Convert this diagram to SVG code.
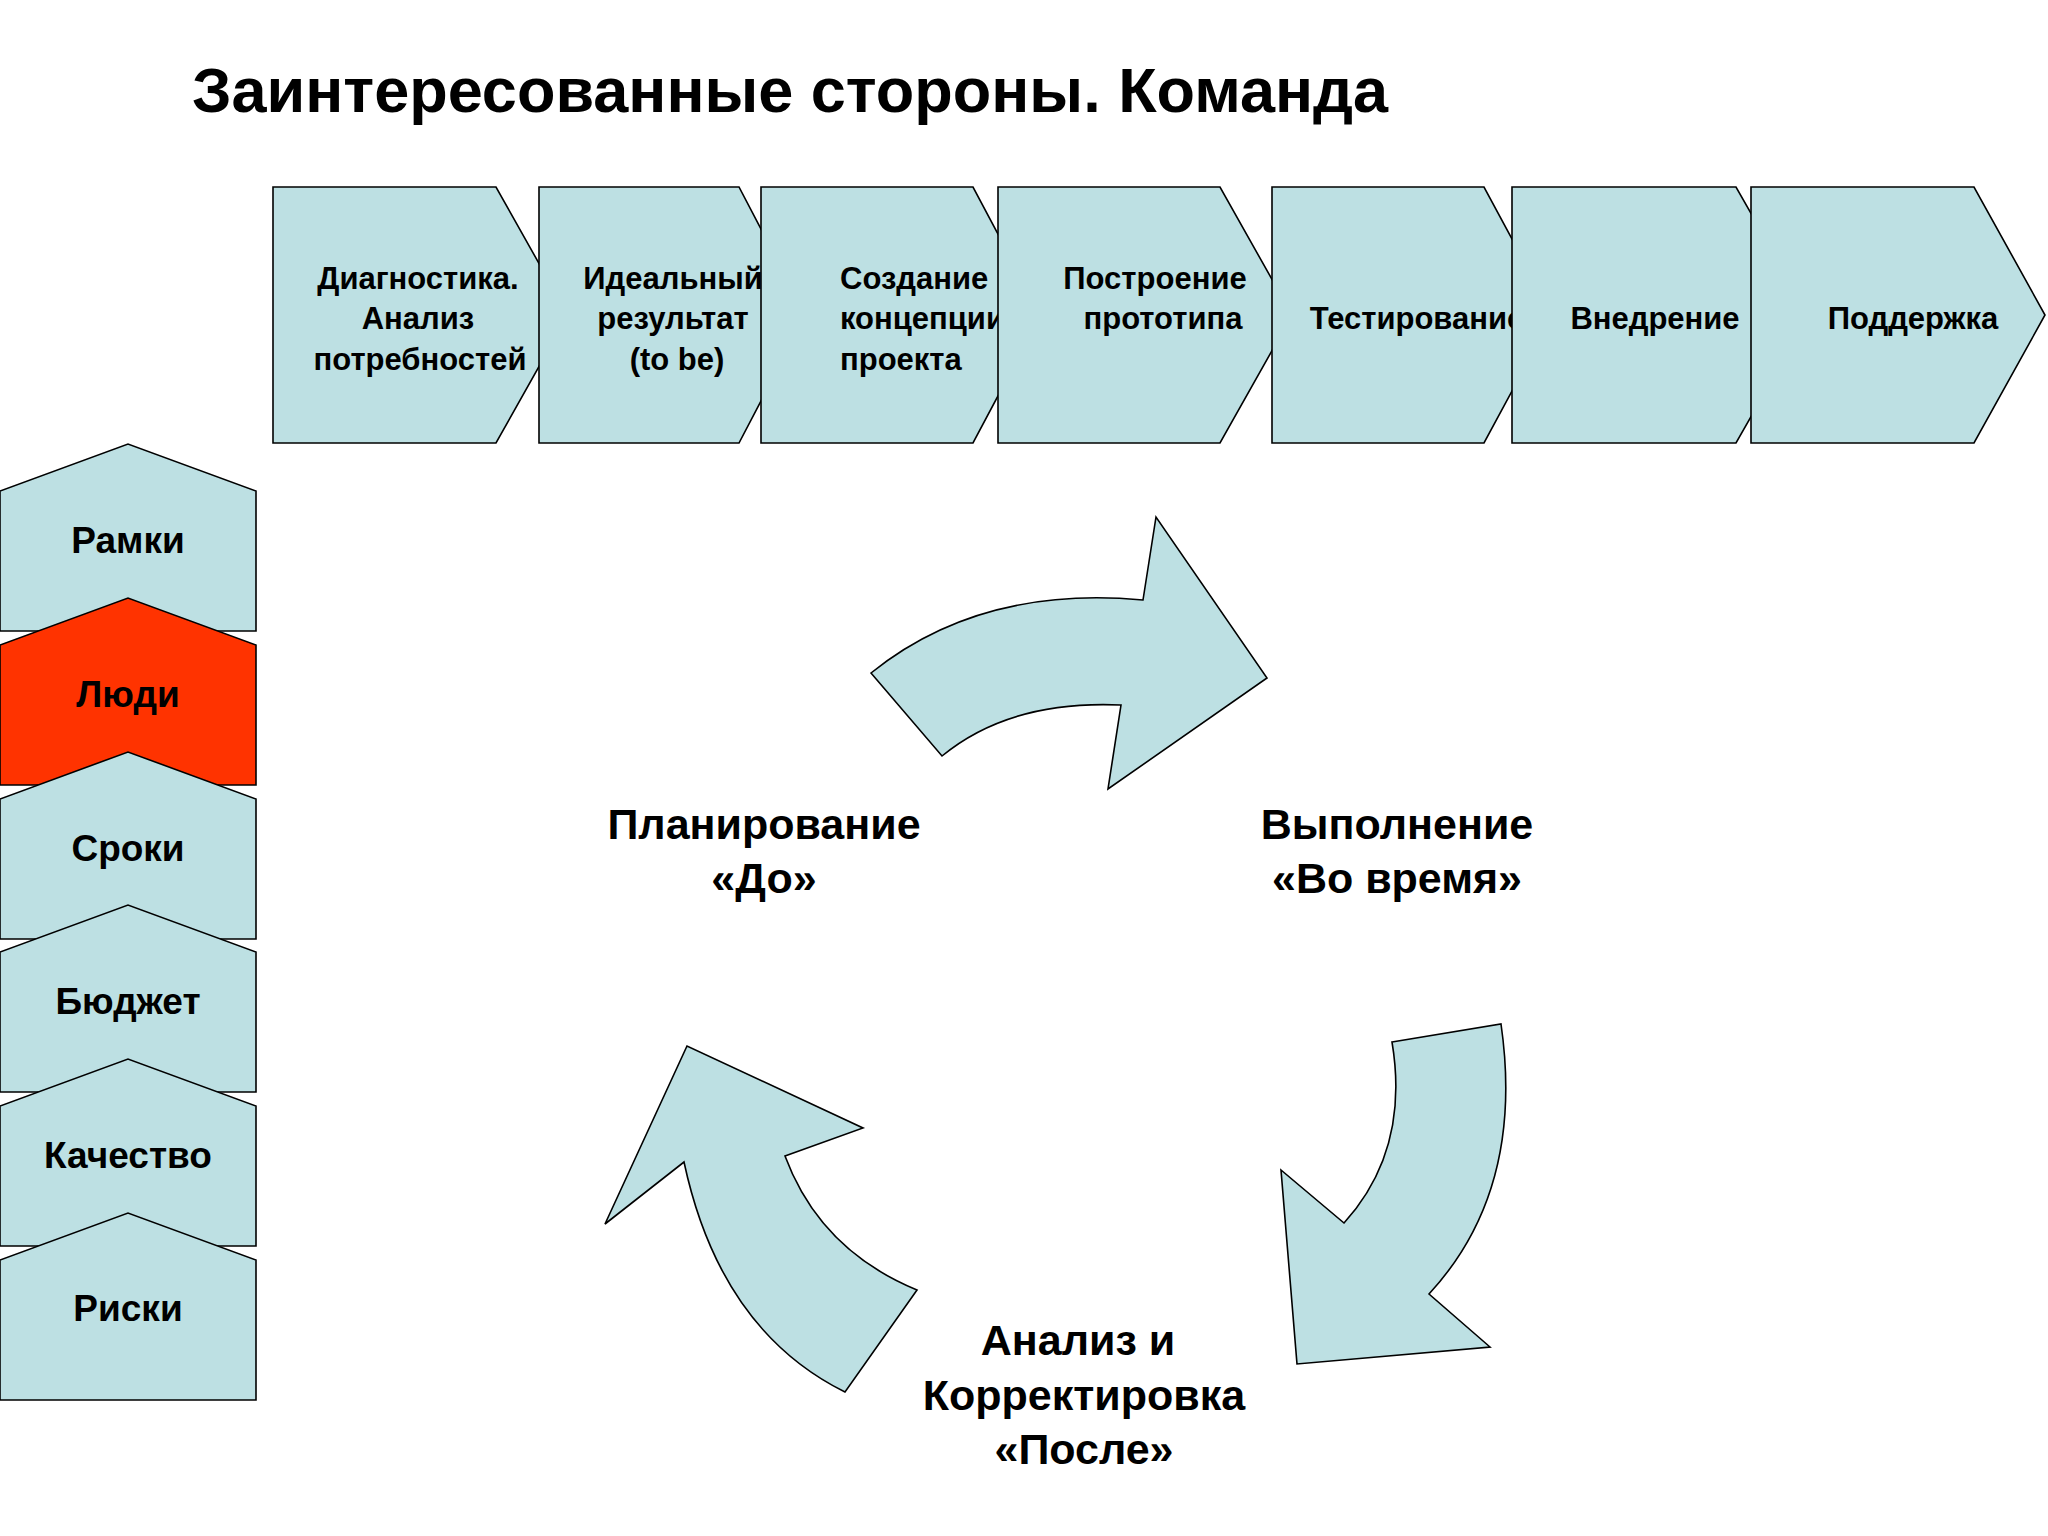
<svg xmlns="http://www.w3.org/2000/svg" width="2048" height="1536" viewBox="0 0 2048 1536">
<style>
.s{fill:#BDE0E3;stroke:#000;stroke-width:1.6}
.t{font-family:"Liberation Sans",Arial,sans-serif;font-weight:bold;fill:#000;text-anchor:middle}
.c{font-size:31px}
.p{font-size:37px}
.b{font-size:43px}
</style>
<rect width="2048" height="1536" fill="#fff"/>
<text x="192" y="112" font-family="Liberation Sans,Arial,sans-serif" font-weight="bold" font-size="63">Заинтересованные стороны. Команда</text>
<g id="phases">
<g id="ph1"><polygon class="s" points="273,187 496,187 568,315 496,443 273,443"/><text class="t c" x="418" y="289">Диагностика.</text><text class="t c" x="418" y="329">Анализ</text><text class="t c" x="420" y="370">потребностей</text></g>
<g id="ph2"><polygon class="s" points="539,187 739,187 806,315 739,443 539,443"/><text class="t c" x="673" y="289">Идеальный</text><text class="t c" x="673" y="329">результат</text><text class="t c" x="677" y="370">(to be)</text></g>
<g id="ph3"><polygon class="s" points="761,187 973,187 1041,315 973,443 761,443"/><text class="t c" x="840" y="289" text-anchor="start" style="text-anchor:start">Создание</text><text class="t c" x="840" y="329" style="text-anchor:start">концепции</text><text class="t c" x="840" y="370" style="text-anchor:start">проекта</text></g>
<g id="ph4"><polygon class="s" points="998,187 1220,187 1292,315 1220,443 998,443"/><text class="t c" x="1155" y="289">Построение</text><text class="t c" x="1163" y="329">прототипа</text></g>
<g id="ph5"><polygon class="s" points="1272,187 1484,187 1553,315 1484,443 1272,443"/><text class="t c" x="1417" y="329">Тестирование</text></g>
<g id="ph6"><polygon class="s" points="1512,187 1736,187 1809,315 1736,443 1512,443"/><text class="t c" x="1655" y="329">Внедрение</text></g>
<g id="ph7"><polygon class="s" points="1751,187 1974,187 2045,315 1974,443 1751,443"/><text class="t c" x="1913" y="329">Поддержка</text></g>
</g>
<g id="constraints">
<g id="k1"><polygon class="s" points="0,491 128,444 256,491 256,631 0,631"/><text class="t p" x="128" y="553">Рамки</text></g>
<g id="k2"><polygon class="s" style="fill:#FF3300" points="0,645 128,598 256,645 256,785 0,785"/><text class="t p" x="128" y="707">Люди</text></g>
<g id="k3"><polygon class="s" points="0,799 128,752 256,799 256,939 0,939"/><text class="t p" x="128" y="861">Сроки</text></g>
<g id="k4"><polygon class="s" points="0,952 128,905 256,952 256,1092 0,1092"/><text class="t p" x="128" y="1014">Бюджет</text></g>
<g id="k5"><polygon class="s" points="0,1106 128,1059 256,1106 256,1246 0,1246"/><text class="t p" x="128" y="1168">Качество</text></g>
<g id="k6"><polygon class="s" points="0,1260 128,1213 256,1260 256,1400 0,1400"/><text class="t p" x="128" y="1321">Риски</text></g>
</g>
<g id="connectors">
<path class="s" d="M871,673 L942,756 Q1010,700 1121,705 L1108,789 L1267,678 L1156,517 L1143,600 Q980,585 871,673 Z"/>
<path class="s" d="M1392,1042 L1501,1024 Q1525,1190 1429,1294 L1490,1347 L1297,1364 L1281,1170 L1344,1223 Q1410,1150 1392,1042 Z"/>
<path class="s" d="M917,1290 L845,1392 Q720,1330 684,1162 L605,1224 L687,1046 L863,1128 L785,1156 Q820,1250 917,1290 Z"/>
</g>
<g id="labels">
<text class="t b" x="764" y="839">Планирование</text>
<text class="t b" x="764" y="893">«До»</text>
<text class="t b" x="1397" y="839">Выполнение</text>
<text class="t b" x="1397" y="893">«Во время»</text>
<text class="t b" x="1078" y="1355">Анализ и</text>
<text class="t b" x="1084" y="1410">Корректировка</text>
<text class="t b" x="1084" y="1464">«После»</text>
</g>
</svg>
